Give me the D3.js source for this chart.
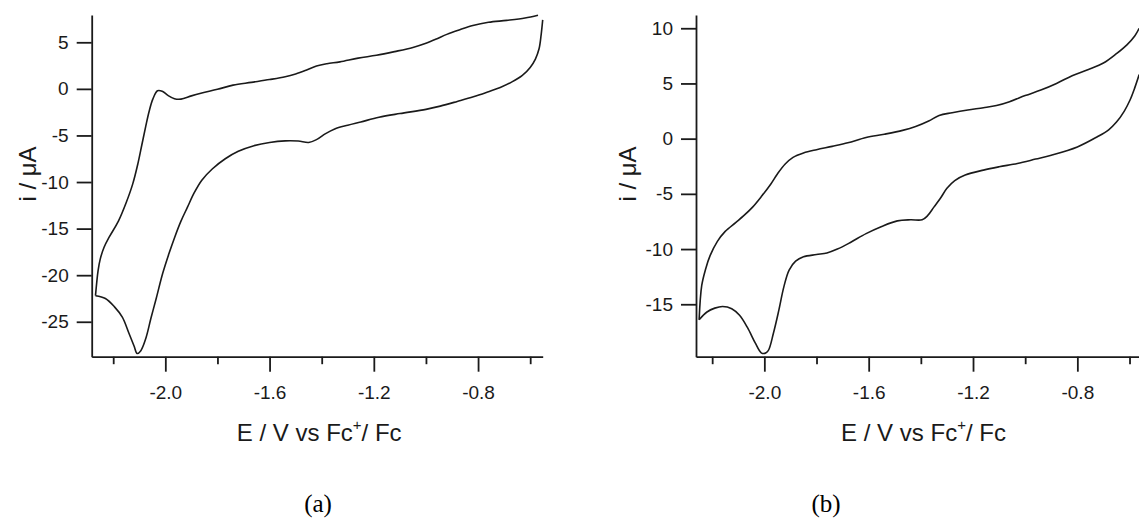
<!DOCTYPE html>
<html>
<head>
<meta charset="utf-8">
<script src="https://cdn.jsdelivr.net/npm/d3@7"></script>
<style>
  body { margin: 0; background: #fff; }
  svg { display: block; }
</style>
</head>
<body>
<svg id="chart" width="1139" height="521"></svg>
<script>
// voltammogram (a): [E / V, i / uA]
const aUpper = [
  [-2.268, -22.2], [-2.258, -19.5], [-2.250, -18.3], [-2.235, -17.0], [-2.215, -15.9],
  [-2.180, -14.2], [-2.150, -12.2], [-2.125, -10.2], [-2.105, -8.0], [-2.090, -6.0],
  [-2.075, -4.0], [-2.062, -2.4], [-2.048, -1.1], [-2.030, -0.2], [-2.012, -0.25],
  [-1.990, -0.7], [-1.965, -1.05], [-1.940, -1.1], [-1.900, -0.75], [-1.860, -0.45],
  [-1.800, -0.05], [-1.740, 0.4], [-1.670, 0.7], [-1.600, 1.0], [-1.540, 1.3],
  [-1.500, 1.6], [-1.460, 2.0], [-1.420, 2.45], [-1.380, 2.7], [-1.330, 2.9],
  [-1.260, 3.3], [-1.190, 3.6], [-1.120, 4.0], [-1.050, 4.45], [-1.000, 4.9],
  [-0.960, 5.35], [-0.920, 5.85], [-0.870, 6.35], [-0.820, 6.8], [-0.760, 7.15],
  [-0.690, 7.35], [-0.620, 7.6], [-0.570, 7.9]
];
const aLower = [
  [-2.268, -22.2], [-2.230, -22.5], [-2.195, -23.4], [-2.165, -24.5], [-2.140, -26.2],
  [-2.120, -27.6], [-2.108, -28.4], [-2.094, -28.1], [-2.075, -26.8], [-2.055, -24.6],
  [-2.035, -22.5], [-2.010, -19.8], [-1.985, -17.6], [-1.965, -16.0], [-1.940, -14.2],
  [-1.915, -12.7], [-1.890, -11.2], [-1.860, -9.8], [-1.820, -8.6], [-1.770, -7.5],
  [-1.720, -6.7], [-1.660, -6.1], [-1.600, -5.75], [-1.540, -5.58], [-1.490, -5.6],
  [-1.450, -5.75], [-1.420, -5.45], [-1.385, -4.8], [-1.350, -4.3], [-1.300, -3.9],
  [-1.250, -3.55], [-1.180, -3.05], [-1.100, -2.65], [-1.000, -2.2], [-0.945, -1.85],
  [-0.880, -1.35], [-0.818, -0.85], [-0.760, -0.3], [-0.715, 0.15], [-0.670, 0.75],
  [-0.630, 1.45], [-0.600, 2.3], [-0.580, 3.2], [-0.566, 4.3], [-0.558, 5.8], [-0.552, 7.4]
];

// voltammogram (b)
const bUpper = [
  [-2.250, -16.4], [-2.240, -13.3], [-2.225, -11.8], [-2.208, -10.6], [-2.180, -9.3],
  [-2.150, -8.4], [-2.110, -7.6], [-2.080, -7.0], [-2.045, -6.2], [-2.010, -5.2],
  [-1.975, -4.1], [-1.950, -3.2], [-1.920, -2.3], [-1.890, -1.7], [-1.850, -1.3],
  [-1.800, -1.0], [-1.740, -0.7], [-1.680, -0.38], [-1.610, 0.1], [-1.540, 0.4],
  [-1.470, 0.75], [-1.420, 1.1], [-1.370, 1.6], [-1.330, 2.1], [-1.280, 2.35],
  [-1.220, 2.6], [-1.160, 2.8], [-1.110, 3.0], [-1.060, 3.35], [-1.000, 3.9],
  [-0.940, 4.4], [-0.880, 5.0], [-0.820, 5.7], [-0.760, 6.25], [-0.700, 6.85],
  [-0.650, 7.7], [-0.610, 8.5], [-0.580, 9.3], [-0.563, 10.0]
];
const bLower = [
  [-2.250, -16.4], [-2.220, -15.7], [-2.190, -15.35], [-2.160, -15.2], [-2.125, -15.4],
  [-2.095, -16.0], [-2.065, -17.1], [-2.035, -18.5], [-2.012, -19.4], [-1.998, -19.45],
  [-1.985, -19.2], [-1.965, -17.6], [-1.945, -15.6], [-1.925, -13.4], [-1.905, -11.9],
  [-1.880, -11.1], [-1.850, -10.7], [-1.800, -10.5], [-1.760, -10.35], [-1.720, -10.0],
  [-1.670, -9.4], [-1.610, -8.6], [-1.550, -7.95], [-1.490, -7.45], [-1.440, -7.35],
  [-1.395, -7.35], [-1.375, -7.0], [-1.350, -6.2], [-1.325, -5.4], [-1.300, -4.5],
  [-1.270, -3.8], [-1.230, -3.3], [-1.160, -2.85], [-1.100, -2.55], [-1.030, -2.25],
  [-0.960, -1.85], [-0.900, -1.5], [-0.800, -0.75], [-0.725, 0.15], [-0.680, 0.8],
  [-0.650, 1.5], [-0.620, 2.5], [-0.598, 3.5], [-0.580, 4.6], [-0.563, 5.8]
];

const xMajorTicks = [-2.0, -1.6, -1.2, -0.8];
const xMinorTicks = [-2.2, -1.8, -1.4, -1.0, -0.6];
const aYTicks = [5, 0, -5, -10, -15, -20, -25];
const bYTicks = [10, 5, 0, -5, -10, -15];

const panels = [
  { left: 91.7, xDomain: [-2.2825, -0.552], yDomain: [-28.75, 7.93], yTicks: aYTicks,
    curves: [aUpper, aLower], ytitleX: 36, caption: "(a)", captionX: 318 },
  { left: 696, xDomain: [-2.262, -0.533], yDomain: [-19.75, 11.2], yTicks: bYTicks,
    curves: [bUpper, bLower], ytitleX: 636, caption: "(b)", captionX: 826 }
];

const plotTop = 15, plotBottom = 356.7, plotW = 451;
const ink = "#1a1a1a";
const sans = "'Liberation Sans', Arial, sans-serif";
const svg = d3.select("#chart");

panels.forEach(p => {
  const x = d3.scaleLinear().domain(p.xDomain).range([p.left, p.left + plotW]);
  const y = d3.scaleLinear().domain(p.yDomain).range([plotBottom, plotTop]);
  const g = svg.append("g");

  const line = d3.line()
    .x(d => x(d[0]))
    .y(d => y(d[1]))
    .curve(d3.curveCatmullRom.alpha(0.5));

  p.curves.forEach(c => {
    g.append("path")
      .attr("d", line(c))
      .attr("fill", "none")
      .attr("stroke", ink)
      .attr("stroke-width", 1.6)
      .attr("stroke-linejoin", "round");
  });

  // minor x ticks
  g.append("g")
    .attr("transform", "translate(0," + plotBottom + ")")
    .call(d3.axisBottom(x).tickValues(xMinorTicks).tickSize(7.5).tickFormat(""))
    .call(a => a.select(".domain").remove());

  const xAxis = g.append("g")
    .attr("transform", "translate(0," + plotBottom + ")")
    .call(d3.axisBottom(x).tickValues(xMajorTicks).tickSize(15).tickSizeOuter(0)
      .tickPadding(14).tickFormat(d => d.toFixed(1)));

  const yAxis = g.append("g")
    .attr("transform", "translate(" + p.left + ",0)")
    .call(d3.axisLeft(y).tickValues(p.yTicks).tickSize(15).tickSizeOuter(0)
      .tickPadding(8).tickFormat(d => String(d)));

  [xAxis, yAxis].forEach(a => {
    a.selectAll("path, line").attr("stroke", ink).attr("stroke-width", 1.8);
    a.selectAll("text")
      .attr("fill", ink)
      .style("font-family", sans)
      .style("font-size", "19px");
  });
  g.selectAll("line").attr("stroke", ink).attr("stroke-width", 1.8);

  const xt = g.append("text")
    .attr("x", p.left + plotW / 2 + 2)
    .attr("y", 440.5)
    .attr("text-anchor", "middle")
    .attr("fill", ink)
    .style("font-family", sans)
    .style("font-size", "24px");
  xt.append("tspan").text("E / V vs Fc");
  xt.append("tspan").attr("dy", -11).style("font-size", "15px").text("+");
  xt.append("tspan").attr("dy", 11).text("/ Fc");

  g.append("text")
    .attr("transform", "translate(" + p.ytitleX + ",174) rotate(-90)")
    .attr("text-anchor", "middle")
    .attr("fill", ink)
    .style("font-family", sans)
    .style("font-size", "24px")
    .text("i / μA");

  svg.append("text")
    .attr("x", p.captionX)
    .attr("y", 512)
    .attr("text-anchor", "middle")
    .attr("fill", "#000")
    .style("font-family", "'Liberation Serif', 'Times New Roman', serif")
    .style("font-size", "25px")
    .text(p.caption);
});
</script>
</body>
</html>
